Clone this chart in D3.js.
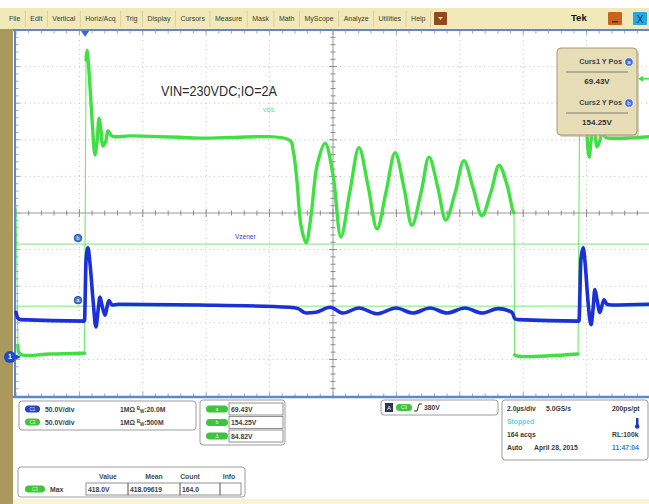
<!DOCTYPE html>
<html>
<head>
<meta charset="utf-8">
<script src="https://cdnjs.cloudflare.com/ajax/libs/d3/7.8.5/d3.min.js"></script>
<style>
  body { margin: 0; background: #fff; overflow: hidden; }
  text { font-family: "Liberation Sans", Arial, sans-serif; }
</style>
</head>
<body>
<script>
// ---- data (time in µs, volts) ----
// C3 : VDS
var vdsT = [0, 0.03, 0.06, 0.13, 1.07, 2.16, 2.21, 2.24, 2.30, 2.40, 2.49, 2.56, 2.62, 2.68, 2.74, 2.84, 2.90, 3.00, 3.09, 3.60,
            5.80, 8.64, 8.74, 8.86, 8.99, 9.15, 9.31, 9.50, 9.75, 10.00, 10.25, 10.54, 10.82, 11.10, 11.39, 11.67, 11.96, 12.24, 12.49, 12.78,
            13.03, 13.31, 13.56, 13.85, 14.13, 14.42, 14.70, 14.98, 15.24, 15.49, 15.68, 15.71, 15.73, 15.84, 17.73, 17.79, 17.82, 17.89, 17.98, 18.08,
            18.14, 18.20, 18.26, 18.33, 18.42, 18.49, 18.58, 18.68, 20.00];
var vdsV = [208, 119, 16, 4, 4, 5, 406, 419, 392, 324, 276, 296, 326, 310, 288, 296, 309, 303, 301, 302,
            299, 296, 283, 242, 180, 156, 194, 262, 292, 249, 164, 228, 286, 235, 175, 225, 279, 231, 180, 225,
            273, 231, 187, 224, 268, 231, 193, 225, 262, 235, 199, 197, 3, 1, 4, 406, 419, 392, 324, 273,
            296, 324, 307, 287, 296, 307, 301, 299, 301];
// C1 : Vzener
var vzT = [0, 0.06, 0.13, 2.16, 2.21, 2.27, 2.33, 2.43, 2.52, 2.59, 2.65, 2.71, 2.81, 2.87, 2.93, 3.03, 3.22, 5.80, 8.64, 8.90,
           9.15, 9.46, 9.91, 10.32, 10.82, 11.39, 11.99, 12.52, 13.06, 13.60, 14.16, 14.70, 15.21, 15.65, 15.74, 15.84, 17.76, 17.82, 17.89, 17.95,
           18.04, 18.14, 18.20, 18.26, 18.33, 18.42, 18.49, 18.55, 18.64, 18.80, 20.00];
var vzV = [61, 53, 51, 49, 133, 149, 130, 78, 41, 64, 82, 71, 57, 68, 77, 71, 72, 71, 68, 66,
           60, 61, 68, 60, 67, 59, 67, 60, 67, 60, 67, 60, 66, 61, 52, 51, 49, 133, 149, 130,
           78, 44, 64, 92, 78, 61, 71, 78, 72, 71, 72];

var cursorLevels = [69.43, 154.25];      // a, b
var cursorNames = ["a", "b"];
var cursorText = ["69.43V", "154.25V", "84.82V"];
var trigLevel = 380;
var trigTime = 2.18;
var menuItems = ["File", "Edit", "Vertical", "Horiz/Acq", "Trig", "Display", "Cursors", "Measure", "Mask", "Math", "MyScope", "Analyze", "Utilities", "Help"];
var chanRows = [["C1", "50.0V/div", "20.0M"], ["C3", "50.0V/div", "500M"]];
var measHeaders = ["Value", "Mean", "Count", "Info"];
var measValues = ["418.0V", "418.09619", "164.0", ""];

var width = 649,
    height = 504;
var svg = d3.select("body")
    .append("svg")
    .attr("width", width)
    .attr("height", height);

var x = d3.scaleLinear().domain([0, 20]).range([16, 650]);
var y = d3.scaleLinear().domain([-53.3, 446.7]).range([396, 30]);
var gx = d3.scaleLinear().domain([0, 10]).range([16, 650]);
var gy = d3.scaleLinear().domain([0, 10]).range([30, 396]);

var green = "#40e042", blue = "#1b30d6";

// ---- window chrome ----
svg.append("rect").attr("width", width).attr("height", height).attr("fill", "#fff");
svg.append("rect").attr("x", 0).attr("y", 8).attr("width", width).attr("height", 21).attr("fill", "#f1eab8");
svg.append("rect").attr("x", 0).attr("y", 29).attr("width", 13).attr("height", 475).attr("fill", "#ab985c");
svg.append("rect").attr("x", 13).attr("y", 499).attr("width", 636).attr("height", 5).attr("fill", "#fbf3d6");

var mx = 9;
menuItems.forEach(function (m) {
    var t = svg.append("text").attr("x", mx).attr("y", 21).attr("font-size", 7).attr("fill", "#3a3a3a").text(m);
    mx += t.node().getComputedTextLength() + 5;
    svg.append("line").attr("x1", mx).attr("x2", mx).attr("y1", 11).attr("y2", 27).attr("stroke", "#d8d0a0");
    mx += 5;
});
svg.append("rect").attr("x", 434).attr("y", 12).attr("width", 13).attr("height", 13).attr("rx", 1).attr("fill", "#8e4c1e");
svg.append("path").attr("d", "M438,17 L443,17 L440.5,20 Z").attr("fill", "#f0d0a0");
svg.append("text").attr("x", 571).attr("y", 21).attr("font-size", 9.5).attr("font-weight", "bold").attr("fill", "#111").text("Tek");
svg.append("rect").attr("x", 608).attr("y", 12).attr("width", 14).attr("height", 13).attr("rx", 1).attr("fill", "#c8621e");
svg.append("rect").attr("x", 612).attr("y", 21).attr("width", 6).attr("height", 1.5).attr("fill", "#5a2a08");
svg.append("rect").attr("x", 633).attr("y", 12).attr("width", 14).attr("height", 13).attr("rx", 1).attr("fill", "#27a6e6");
svg.append("text").attr("x", 640).attr("y", 22.5).attr("text-anchor", "middle").attr("font-size", 10).attr("fill", "#0a3a70").text("X");

// ---- graticule ----
var grid = svg.append("g");
d3.range(1, 10).forEach(function (k) {
    if (k == 5) return;
    grid.append("line").attr("x1", gx(k)).attr("x2", gx(k)).attr("y1", 31).attr("y2", 396)
        .attr("stroke", "#c4c4c4").attr("stroke-dasharray", "1,3.5");
    grid.append("line").attr("x1", 16).attr("x2", 650).attr("y1", gy(k)).attr("y2", gy(k))
        .attr("stroke", "#c4c4c4").attr("stroke-dasharray", "1,3.5");
});
grid.append("line").attr("x1", gx(5)).attr("x2", gx(5)).attr("y1", 31).attr("y2", 396).attr("stroke", "#9a9a9a");
grid.append("line").attr("x1", 16).attr("x2", 650).attr("y1", gy(5)).attr("y2", gy(5)).attr("stroke", "#9a9a9a");
d3.range(0, 50).forEach(function (i) {
    var k = i / 5, len = (i % 5 == 0) ? 4 : 2.5;
    grid.append("line").attr("x1", gx(k)).attr("x2", gx(k)).attr("y1", gy(5) - len).attr("y2", gy(5) + len).attr("stroke", "#8a8a8a");
    grid.append("line").attr("x1", gx(5) - len).attr("x2", gx(5) + len).attr("y1", gy(k)).attr("y2", gy(k)).attr("stroke", "#8a8a8a");
    grid.append("line").attr("x1", gx(k)).attr("x2", gx(k)).attr("y1", 31).attr("y2", 31 + len).attr("stroke", "#9aa6c4");
    grid.append("line").attr("x1", gx(k)).attr("x2", gx(k)).attr("y1", 396 - len).attr("y2", 396).attr("stroke", "#9aa6c4");
    grid.append("line").attr("x1", 16).attr("x2", 16 + len).attr("y1", gy(k)).attr("y2", gy(k)).attr("stroke", "#9aa6c4");
});
svg.append("line").attr("x1", 13).attr("x2", 650).attr("y1", 30).attr("y2", 30).attr("stroke", "#5f86d2").attr("stroke-width", 2);
svg.append("line").attr("x1", 13).attr("x2", 650).attr("y1", 397).attr("y2", 397).attr("stroke", "#5f86d2").attr("stroke-width", 2.5);
svg.append("line").attr("x1", 15).attr("x2", 15).attr("y1", 29).attr("y2", 398).attr("stroke", "#5f86d2").attr("stroke-width", 2);

// ---- cursors ----
cursorLevels.forEach(function (c, i) {
    svg.append("line").attr("x1", 16).attr("x2", 650).attr("y1", y(c)).attr("y2", y(c))
        .attr("stroke", "#7ee27e").attr("stroke-width", 1);
    svg.append("circle").attr("cx", 78).attr("cy", y(c) - 6).attr("r", 3.8)
        .attr("fill", "#4a78dc").attr("stroke", "#1d3fa0").attr("stroke-width", 0.8);
    svg.append("text").attr("x", 78).attr("y", y(c) - 4.3).attr("text-anchor", "middle")
        .attr("font-size", 5).attr("fill", "#fff").text(cursorNames[i]);
});

// ---- traces ----
function drawTrace(ts, vs, color, w, jumpPx, curve) {
    var pts = ts.map(function (t, i) { return [x(t), y(vs[i])]; });
    var runs = [[pts[0]]], jumps = [];
    for (var i = 1; i < pts.length; i++) {
        var dx = pts[i][0] - pts[i - 1][0], dy = Math.abs(pts[i][1] - pts[i - 1][1]);
        if (dx < 3 && dy > jumpPx) {
            jumps.push([pts[i - 1], pts[i]]);
            runs.push([pts[i]]);
        } else {
            runs[runs.length - 1].push(pts[i]);
        }
    }
    var line = d3.line().curve(curve);
    jumps.forEach(function (j) {
        svg.append("path").attr("d", d3.line()(j)).attr("fill", "none")
            .attr("stroke", color).attr("stroke-width", 1.1).attr("opacity", 0.75);
    });
    runs.forEach(function (r) {
        if (r.length < 2) return;
        svg.append("path").attr("d", line(r)).attr("fill", "none")
            .attr("stroke", color).attr("stroke-width", w)
            .attr("stroke-linejoin", "round").attr("stroke-linecap", "round");
    });
}
drawTrace(vdsT, vdsV, green, 3.4, 50, d3.curveCatmullRom.alpha(0.5));
drawTrace(vzT, vzV, blue, 3.6, 1000, d3.curveMonotoneX);

// markers
svg.append("path").attr("d", "M" + (x(trigTime) - 4) + ",31 L" + (x(trigTime) + 4) + ",31 L" + x(trigTime) + ",37 Z").attr("fill", "#3a66d0");
svg.append("circle").attr("cx", 10).attr("cy", y(0)).attr("r", 6).attr("fill", "#1d48d2");
svg.append("text").attr("x", 10).attr("y", y(0) + 2.5).attr("text-anchor", "middle").attr("font-size", 7).attr("font-weight", "bold").attr("fill", "#fff").text("1");
svg.append("path").attr("d", "M16," + (y(0) - 2.5) + " L21," + y(0) + " L16," + (y(0) + 2.5) + " Z").attr("fill", "#1d48d2");
svg.append("line").attr("x1", 641).attr("x2", 649).attr("y1", y(trigLevel)).attr("y2", y(trigLevel)).attr("stroke", green).attr("stroke-width", 1.5);
svg.append("path").attr("d", "M638," + y(trigLevel) + " L643," + (y(trigLevel) - 3) + " L643," + (y(trigLevel) + 3) + " Z").attr("fill", green);

// labels
svg.append("text").attr("x", 161).attr("y", 96).attr("font-size", 15.5).attr("fill", "#2e2e2e")
    .attr("textLength", 116).attr("lengthAdjust", "spacingAndGlyphs").text("VIN=230VDC;IO=2A");
svg.append("text").attr("x", 263).attr("y", 112).attr("font-size", 5.5).attr("fill", green).text("VDS");
svg.append("text").attr("x", 235).attr("y", 239).attr("font-size", 6.5).attr("fill", "#2a3ad0").text("Vzener");

// ---- cursor readout box ----
var cb = svg.append("g");
cb.append("rect").attr("x", 559).attr("y", 50).attr("width", 80).attr("height", 87).attr("rx", 4).attr("fill", "#b9b29a").attr("opacity", 0.6);
cb.append("rect").attr("x", 557).attr("y", 48).attr("width", 80).attr("height", 87).attr("rx", 4)
    .attr("fill", "#e7ddb7").attr("stroke", "#a89a72");
[["Curs1 Y Pos", 0], ["Curs2 Y Pos", 1]].forEach(function (d) {
    var y0 = 64 + d[1] * 41;
    cb.append("text").attr("x", 622).attr("y", y0).attr("text-anchor", "end").attr("font-size", 7.3).attr("font-weight", "bold").attr("fill", "#444").text(d[0]);
    cb.append("circle").attr("cx", 629).attr("cy", y0 - 2).attr("r", 4.3).attr("fill", "#3a6fe0").attr("stroke", "#fff").attr("stroke-width", 0.8);
    cb.append("text").attr("x", 629).attr("y", y0 + 0.2).attr("text-anchor", "middle").attr("font-size", 6).attr("fill", "#fff").text(cursorNames[d[1]]);
    cb.append("line").attr("x1", 566).attr("x2", 628).attr("y1", y0 + 8).attr("y2", y0 + 8).attr("stroke", "#555").attr("stroke-width", 0.7);
    cb.append("text").attr("x", 597).attr("y", y0 + 20).attr("text-anchor", "middle").attr("font-size", 8).attr("font-weight", "bold").attr("fill", "#333").text(cursorText[d[1]]);
});

// ---- bottom panels ----
function pill(px, py, w, color, label) {
    svg.append("rect").attr("x", px).attr("y", py - 3.5).attr("width", w).attr("height", 7).attr("rx", 3.5).attr("fill", color);
    svg.append("text").attr("x", px + w / 2).attr("y", py + 1.8).attr("text-anchor", "middle").attr("font-size", 4.5).attr("fill", "#e8f8e8").text(label);
}
function uiText(tx, ty, s, col, anchor) {
    return svg.append("text").attr("x", tx).attr("y", ty).attr("font-size", 6.8).attr("font-weight", "bold")
        .attr("text-anchor", anchor || "start").attr("fill", col || "#3c3c3c").text(s);
}
function box(bx, by, bw, bh) {
    svg.append("rect").attr("x", bx).attr("y", by).attr("width", bw).attr("height", bh).attr("rx", 3)
        .attr("fill", "#fff").attr("stroke", "#9c9c9c").attr("stroke-width", 1);
}

// channel box
box(19, 401, 177, 29);
chanRows.forEach(function (r, i) {
    var ry = 409 + i * 13;
    pill(25, ry, 15, i == 0 ? "#2444c4" : "#3fc43f", r[0]);
    uiText(45, ry + 2.5, r[1]);
    var t = uiText(120, ry + 2.5, "1MΩ ");
    t.append("tspan").attr("font-size", 4.5).attr("dy", -2).text("B");
    t.append("tspan").attr("font-size", 4.5).attr("dy", 3).text("W");
    t.append("tspan").attr("dy", -1).text(":" + r[2]);
});

// cursor values box
box(200, 400, 85, 45);
cursorText.forEach(function (s, i) {
    var ry = 409 + i * 13.5;
    pill(206, ry, 22, "#3fc43f", ["a", "b", "Δ"][i]);
    svg.append("rect").attr("x", 229).attr("y", ry - 6).attr("width", 54).attr("height", 12).attr("fill", "none").attr("stroke", "#777").attr("stroke-width", 0.8);
    uiText(231, ry + 2.5, s);
});

// measurement box
box(18, 467, 227, 30);
var colX = [108, 154, 190, 229];
measHeaders.forEach(function (h, i) { uiText(colX[i], 479, h, "#4a4a4a", "middle"); });
pill(25, 489, 20, "#3fc43f", "C3");
uiText(50, 491.5, "Max");
var cellX = [86, 128, 180, 220, 241];
measValues.forEach(function (v, i) {
    svg.append("rect").attr("x", cellX[i]).attr("y", 483).attr("width", cellX[i + 1] - cellX[i]).attr("height", 12)
        .attr("fill", "none").attr("stroke", "#777").attr("stroke-width", 0.8);
    uiText(cellX[i] + 2, 491.5, v);
});

// trigger box
box(381, 400, 117, 15);
svg.append("rect").attr("x", 385).attr("y", 403).attr("width", 8).attr("height", 9).attr("fill", "#2a3650");
svg.append("text").attr("x", 389).attr("y", 410).attr("text-anchor", "middle").attr("font-size", 6).attr("fill", "#fff").text("A");
pill(396, 407.5, 16, "#3fc43f", "C3");
svg.append("path").attr("d", "M414,411 L417,411 L419,404 L422,404").attr("fill", "none").attr("stroke", "#333").attr("stroke-width", 1);
uiText(424, 410, trigLevel + "V");

// horizontal / acquisition box
box(502, 400, 146, 60);
uiText(507, 411, "2.0µs/div");
uiText(546, 411, "5.0GS/s");
uiText(612, 411, "200ps/pt");
uiText(507, 424, "Stopped", "#54d6f2");
svg.append("rect").attr("x", 636).attr("y", 418).attr("width", 2.5).attr("height", 8).attr("fill", "#1d3fb0");
svg.append("circle").attr("cx", 637.2).attr("cy", 426.5).attr("r", 2.3).attr("fill", "#1d3fb0");
uiText(507, 437, "164 acqs");
uiText(612, 437, "RL:100k");
uiText(507, 450, "Auto");
uiText(534, 450, "April 28, 2015");
uiText(612, 450, "11:47:04", "#3a78d8");
</script>
</body>
</html>
